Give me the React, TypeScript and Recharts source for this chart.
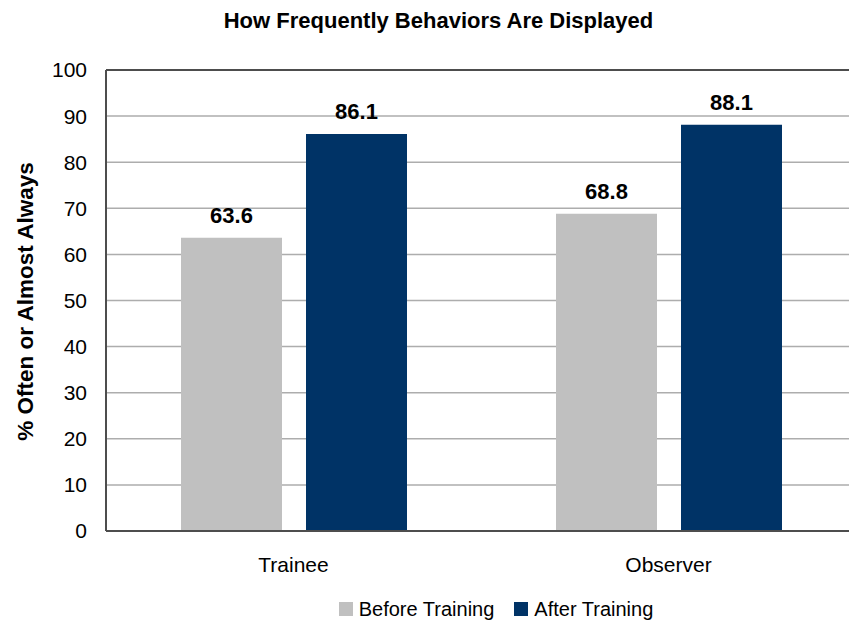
import {
  Bar,
  BarChart,
  CartesianGrid,
  LabelList,
  Legend,
  ReferenceLine,
  XAxis,
  YAxis,
} from 'recharts'

const CATEGORIES = ['Trainee', 'Observer']
const BEFORE_TRAINING = [63.6, 68.8]
const AFTER_TRAINING = [86.1, 88.1]
const Y_TICKS = [0, 10, 20, 30, 40, 50, 60, 70, 80, 90, 100]

const SERIES = [
  { key: 'before', name: 'Before Training', color: '#c0c0c0' },
  { key: 'after', name: 'After Training', color: '#003366' },
]

const FONT = '"Liberation Sans", Arial, Helvetica, sans-serif'

const data = CATEGORIES.map((c, i) => ({
  category: c,
  before: BEFORE_TRAINING[i],
  after: AFTER_TRAINING[i],
}))

function LegendBox() {
  return (
    <div
      style={{
        display: 'flex',
        justifyContent: 'center',
        alignItems: 'center',
        gap: 20,
        height: 24,
        fontFamily: FONT,
        fontSize: 20,
        color: '#000',
      }}
    >
      {SERIES.map((s) => (
        <span key={s.key} style={{ display: 'flex', alignItems: 'center' }}>
          <span style={{ width: 14, height: 14, background: s.color, marginRight: 6 }} />
          {s.name}
        </span>
      ))}
    </div>
  )
}

export default function App() {
  return (
    <div
      style={{
        position: 'fixed',
        left: 0,
        top: 0,
        width: 849,
        height: 621,
        overflow: 'hidden',
        background: '#fff',
        fontFamily: FONT,
      }}
    >
      <div
        style={{
          position: 'absolute',
          left: 0,
          top: 8,
          width: 877,
          textAlign: 'center',
          fontSize: 22,
          fontWeight: 700,
          color: '#000',
          zIndex: 2,
        }}
      >
        How Frequently Behaviors Are Displayed
      </div>
      <BarChart
        width={870}
        height={621}
        data={data}
        margin={{ top: 70, right: 14, bottom: 26, left: 0 }}
        barGap={24}
        barSize={101}
      >
        <CartesianGrid vertical={false} stroke="#adadad" strokeWidth={1.5} />
        <XAxis
          dataKey="category"
          height={40}
          tickLine={false}
          tickSize={0}
          tickMargin={26}
          axisLine={{ stroke: '#4d4d4d', strokeWidth: 2 }}
          tick={{ fill: '#000', fontSize: 21, fontFamily: FONT }}
        />
        <YAxis
          width={106}
          domain={[0, 100]}
          ticks={Y_TICKS}
          interval={0}
          tickLine={false}
          tickSize={0}
          tickMargin={19}
          axisLine={{ stroke: '#4d4d4d', strokeWidth: 2 }}
          tick={{ fill: '#000', fontSize: 21, fontFamily: FONT }}
          label={{
            value: '% Often or Almost Always',
            angle: -90,
            position: 'center',
            dx: -28,
            dy: 1,
            style: { fill: '#000', fontSize: 22.5, fontWeight: 700, fontFamily: FONT },
          }}
        />
        <ReferenceLine y={100} stroke="#4d4d4d" strokeWidth={2} />
        <Legend
          verticalAlign="bottom"
          content={<LegendBox />}
          wrapperStyle={{ left: 0, bottom: 0, width: 992 }}
        />
        {SERIES.map((s) => (
          <Bar key={s.key} dataKey={s.key} name={s.name} fill={s.color} isAnimationActive={false}>
            <LabelList
              dataKey={s.key}
              position="top"
              offset={15}
              style={{ fill: '#000', fontSize: 22, fontWeight: 700, fontFamily: FONT }}
            />
          </Bar>
        ))}
      </BarChart>
    </div>
  )
}
